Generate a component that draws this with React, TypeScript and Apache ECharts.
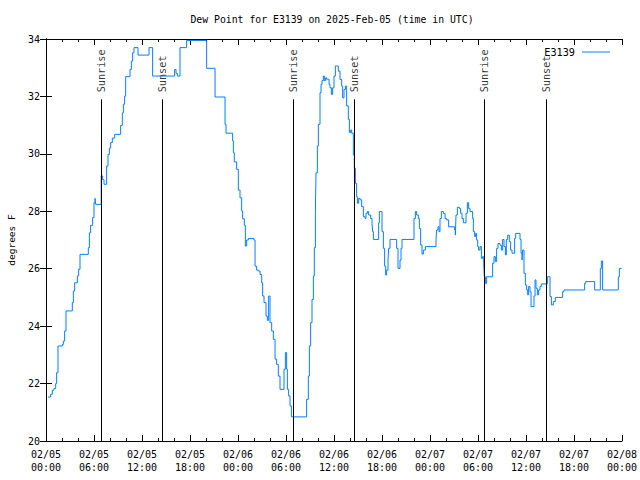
import React, { useEffect, useRef } from "react";
import * as echarts from "echarts";

// Hours since 2025-02-05 00:00 UTC
const hours = [
  0.25, 0.58, 0.79, 1.0, 1.21, 1.33, 1.5, 2.04, 2.17, 2.33, 2.5, 3.29, 3.42, 3.58, 3.92, 4.08, 4.25, 5.29, 5.42, 5.58,
  5.83, 6.0, 6.13, 6.21, 6.9, 7.08, 7.25, 7.58, 7.75, 7.92, 8.08, 8.29, 8.58, 9.33, 9.54, 9.67, 9.83, 9.96, 10.5, 10.67,
  10.83, 11.0, 11.5, 12.88, 13.33, 16.08, 16.25, 16.42, 16.75, 17.58, 20.08, 21.13, 22.38, 22.5, 23.33, 23.42, 23.54, 23.83, 24.04, 24.25,
  24.46, 24.58, 24.79, 24.92, 25.08, 25.29, 26.0, 26.13, 26.33, 26.54, 26.75, 26.96, 27.08, 27.25, 27.5, 27.67, 27.83, 28.0, 28.21, 28.42,
  28.63, 28.83, 29.04, 29.25, 29.75, 29.92, 30.08, 30.17, 30.33, 30.5, 30.67, 32.58, 32.79, 32.92, 33.08, 33.25, 33.42, 33.54, 33.67, 33.75,
  33.92, 34.04, 34.25, 34.38, 34.5, 34.67, 34.79, 34.96, 35.08, 35.38, 35.5, 35.67, 35.83, 36.0, 36.17, 36.54, 36.75, 36.96, 37.08, 37.25,
  37.42, 37.58, 37.79, 37.92, 38.08, 38.21, 38.42, 38.54, 38.67, 38.83, 38.92, 39.08, 39.25, 39.46, 39.67, 39.88, 40.0, 40.17, 40.33, 40.58,
  40.75, 40.83, 40.92, 41.58, 41.67, 42.0, 42.17, 42.33, 42.46, 42.58, 42.75, 42.83, 43.0, 43.83, 44.0, 44.25, 44.38, 44.5, 46.0, 46.17,
  46.33, 46.54, 46.67, 46.83, 47.0, 47.17, 47.42, 48.75, 48.83, 49.0, 49.13, 49.25, 49.42, 49.67, 49.88, 50.08, 50.33, 51.08, 51.17, 51.25,
  51.42, 51.67, 51.83, 52.0, 52.17, 52.5, 52.67, 52.83, 53.0, 53.33, 53.42, 53.58, 53.71, 53.83, 53.96, 54.08, 54.25, 54.42, 54.58, 54.71,
  54.79, 54.92, 55.08, 55.83, 56.0, 56.17, 56.33, 56.5, 56.75, 56.92, 57.08, 57.25, 57.42, 57.54, 57.71, 57.92, 58.08, 58.25, 58.58, 58.71,
  59.25, 59.38, 59.5, 59.58, 59.75, 59.92, 60.08, 60.21, 60.33, 60.5, 60.63, 61.0, 61.13, 61.25, 61.42, 61.58, 61.75, 61.92, 62.67, 63.0,
  63.17, 63.42, 63.67, 64.58, 64.75, 67.33, 67.46, 68.58, 69.29, 69.42, 69.58, 71.54, 71.67, 71.95,
];

// Dew point, degrees F
const dewPointF = [
  21.53, 21.63, 21.77, 21.83, 22.0, 22.38, 23.31, 23.36, 23.48, 23.83, 24.53, 24.82, 25.22, 25.51, 25.75, 25.98, 26.5, 26.73, 27.25, 27.51,
  27.78, 28.3, 28.45, 28.24, 29.23, 29.1, 28.94, 29.58, 29.98, 30.2, 30.39, 30.55, 30.68, 30.99, 31.43, 31.73, 32.01, 32.69, 32.94, 33.23,
  33.52, 33.7, 33.44, 33.7, 32.71, 32.94, 32.8, 32.71, 33.7, 33.95, 32.98, 31.98, 31.03, 30.72, 30.45, 30.04, 29.72, 29.46, 28.74, 28.47,
  28.01, 27.74, 27.51, 26.79, 27.0, 27.05, 27.0, 26.09, 25.95, 25.92, 25.8, 25.51, 25.05, 24.82, 24.35, 24.2, 25.05, 24.12, 23.83, 23.54,
  22.85, 22.67, 22.26, 21.8, 22.5, 23.08, 22.5, 21.8, 21.57, 21.22, 20.84, 21.45, 22.26, 23.31, 24.12, 24.93, 25.75, 26.73, 27.95, 29.34,
  30.27, 31.03, 32.13, 32.42, 32.55, 32.71, 32.55, 32.65, 32.6, 32.42, 32.3, 32.07, 32.3, 32.71, 33.06, 32.88, 32.59, 32.36, 31.95, 32.24,
  32.36, 31.67, 31.2, 30.74, 30.83, 30.72, 29.96, 29.5, 28.97, 28.51, 28.28, 28.45, 28.4, 28.16, 27.81, 27.75, 27.93, 27.99, 27.87, 27.75,
  27.58, 27.29, 27.02, 27.6, 27.99, 27.29, 26.71, 26.09, 25.78, 25.95, 26.3, 26.71, 27.02, 26.71, 26.01, 26.3, 26.71, 27.02, 27.75, 27.99,
  27.87, 27.75, 27.4, 26.83, 26.51, 26.65, 26.77, 27.0, 27.35, 27.46, 27.29, 27.75, 27.99, 27.93, 27.75, 27.7, 27.46, 27.35, 27.17, 27.87,
  28.14, 28.1, 27.93, 27.75, 27.6, 27.93, 28.3, 28.1, 27.99, 27.75, 27.29, 27.12, 27.23, 27.0, 26.77, 26.65, 26.77, 26.36, 26.42, 26.19,
  25.72, 25.49, 25.72, 26.19, 26.42, 26.25, 26.71, 26.88, 26.82, 26.65, 27.02, 26.77, 26.48, 27.02, 27.17, 26.94, 26.65, 26.54, 27.06, 27.23,
  27.02, 26.54, 26.3, 26.65, 25.84, 25.43, 25.26, 25.09, 25.38, 25.2, 24.68, 25.05, 25.61, 25.32, 25.09, 25.26, 25.38, 25.47, 25.72, 25.03,
  24.74, 24.86, 25.0, 25.2, 25.26, 25.49, 25.55, 25.26, 26.01, 26.27, 25.26, 25.72, 26.01, 26.01,
];

const eventHours = [6.88, 14.5, 30.88, 38.5, 54.77, 62.5];
const eventLabels = ["Sunrise", "Sunset", "Sunrise", "Sunset", "Sunrise", "Sunset"];
const eventLineTop = 31.9;

const titleText = "Dew Point for E3139 on 2025-Feb-05 (time in UTC)";
const seriesName = "E3139";
const yAxisName = "degrees F";

const MONO = "'DejaVu Sans Mono', 'Liberation Mono', monospace";

function pad(n: number) {
  return n < 10 ? "0" + n : String(n);
}
function fmtHour(h: number) {
  const day = 5 + Math.floor(h / 24);
  const hh = Math.round(h % 24);
  return "02/" + pad(day) + "\n" + pad(hh) + ":00";
}

export default function App() {
  const ref = useRef<HTMLDivElement>(null);
  useEffect(() => {
    if (!ref.current) return;
    const chart = echarts.init(ref.current, null, { renderer: "svg" });
    const data = hours.map((h, i) => [h, dewPointF[i]]);
    const baseX = {
      type: "value" as const,
      min: 0,
      max: 72,
      interval: 6,
      axisLine: { show: true, lineStyle: { color: "#000", width: 1 } },
      axisTick: { show: true, inside: true, length: 6, lineStyle: { color: "#000" } },
      minorTick: { show: true, splitNumber: 3, length: 3, lineStyle: { color: "#000" } },
      splitLine: { show: false },
      minorSplitLine: { show: false },
    };
    const baseY = {
      type: "value" as const,
      min: 20,
      max: 34,
      interval: 2,
      axisLine: { show: true, lineStyle: { color: "#000", width: 1 } },
      axisTick: { show: true, inside: true, length: 6, lineStyle: { color: "#000" } },
      splitLine: { show: false },
    };
    chart.setOption({
      animation: false,
      backgroundColor: "#fff",
      grid: {
        left: 46,
        right: 18,
        top: 39,
        bottom: 39,
        containLabel: false,
        outerBoundsMode: "none",
      },
      graphic: [
        {
          type: "text",
          x: 332,
          y: 19,
          style: {
            text: titleText,
            fontFamily: MONO,
            fontSize: 9.8,
            fill: "#000",
            textAlign: "center",
            textVerticalAlign: "middle",
          },
        },
      ],
      legend: {
        data: [seriesName],
        right: 30,
        top: 47,
        padding: 0,
        align: "right",
        icon: "rect",
        itemWidth: 28,
        itemHeight: 1,
        itemGap: 0,
        textStyle: { fontFamily: MONO, fontSize: 10.2, color: "#000", padding: [0, 2, 0, 0] },
      },
      xAxis: [
        {
          ...baseX,
          position: "bottom",
          axisLabel: {
            show: true,
            margin: 7,
            fontFamily: MONO,
            fontSize: 10,
            lineHeight: 13,
            color: "#000",
            formatter: (v: number) => fmtHour(v),
          },
        },
        { ...baseX, position: "top", axisLabel: { show: false } },
      ],
      yAxis: [
        {
          ...baseY,
          position: "left",
          name: yAxisName,
          nameLocation: "middle",
          nameGap: 30,
          nameRotate: 90,
          nameTextStyle: { fontFamily: MONO, fontSize: 9.5, color: "#000" },
          axisLabel: { show: true, margin: 6, fontFamily: MONO, fontSize: 10, color: "#000" },
        },
        { ...baseY, position: "right", axisLabel: { show: false } },
      ],
      series: [
        {
          name: seriesName,
          type: "line",
          xAxisIndex: 0,
          yAxisIndex: 0,
          data,
          step: "end",
          symbol: "none",
          showSymbol: false,
          lineStyle: { color: "#0080ff", width: 1 },
          itemStyle: { color: "#0080ff" },
          z: 3,
        },
        {
          name: "events",
          type: "scatter",
          xAxisIndex: 0,
          yAxisIndex: 0,
          symbolSize: 0,
          silent: true,
          z: 2,
          data: eventHours.map((h, i) => ({ value: [h, eventLineTop], name: eventLabels[i] })),
          label: {
            show: true,
            position: "top",
            distance: 7,
            rotate: 90,
            align: "left",
            verticalAlign: "middle",
            fontFamily: MONO,
            fontSize: 10.2,
            color: "#000",
            formatter: (p: any) => p.name,
          },
          markLine: {
            silent: true,
            symbol: ["none", "none"],
            label: { show: false },
            lineStyle: { color: "#000", width: 1, type: "solid" },
            data: eventHours.map((h) => [{ coord: [h, 20] }, { coord: [h, eventLineTop] }]),
          },
        },
      ],
    });
    return () => chart.dispose();
  }, []);
  return (
    <div
      ref={ref}
      style={{ position: "absolute", left: 0, top: 0, width: 640, height: 480, background: "#fff" }}
    />
  );
}
